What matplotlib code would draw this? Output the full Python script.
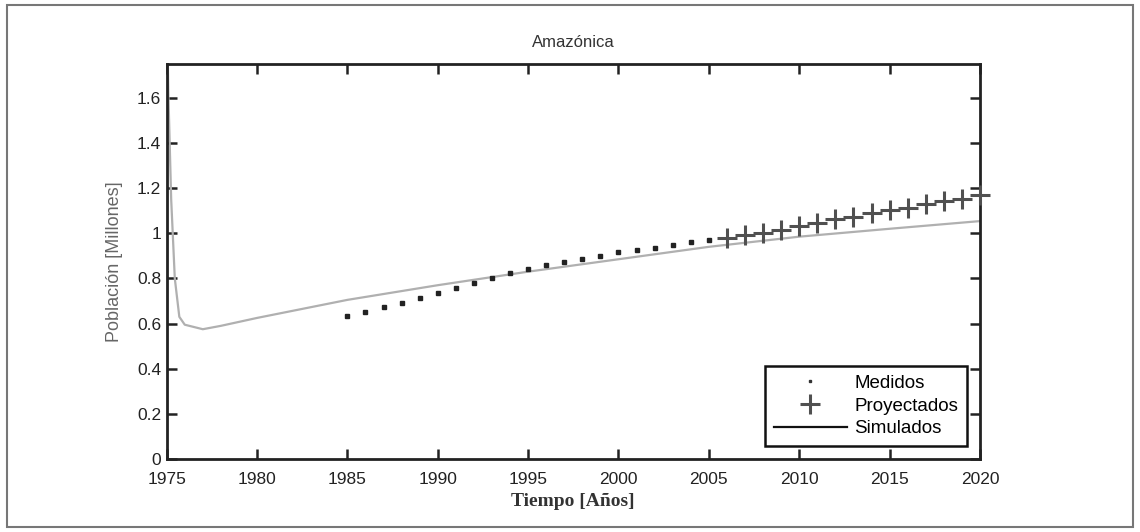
import matplotlib
matplotlib.use("Agg")
import matplotlib.pyplot as plt
from matplotlib.lines import Line2D
from matplotlib.patches import Rectangle

# measured population (millions)
years_medidos = list(range(1985, 2006))
medidos = [0.634, 0.652, 0.673, 0.690, 0.712, 0.735, 0.758, 0.780, 0.802, 0.823,
           0.842, 0.858, 0.875, 0.886, 0.901, 0.915, 0.925, 0.937, 0.948, 0.962,
           0.972]

# projected population
years_proy = list(range(2006, 2021))
proyectados = [0.981, 0.991, 1.003, 1.016, 1.031, 1.046, 1.062, 1.074, 1.090,
               1.102, 1.114, 1.128, 1.142, 1.152, 1.168]

# simulated curve
t_sim = [1975.0, 1975.1, 1975.25, 1975.45, 1975.7, 1976.0, 1977.0, 1978.0, 1980.0,
         1985.0, 1990.0, 1995.0, 2000.0, 2005.0, 2010.0, 2015.0, 2020.0]
simulados = [2.0, 1.6, 1.15, 0.80, 0.63, 0.595, 0.575, 0.590, 0.625,
             0.705, 0.770, 0.830, 0.885, 0.940, 0.985, 1.020, 1.054]

x_ticks = list(range(1975, 2021, 5))
y_ticks = [0, 0.2, 0.4, 0.6, 0.8, 1, 1.2, 1.4, 1.6]
y_tick_labels = ["0", "0.2", "0.4", "0.6", "0.8", "1", "1.2", "1.4", "1.6"]

plt.rcParams['font.family'] = ['Liberation Sans', 'DejaVu Sans']

fig = plt.figure(figsize=(11.4, 5.32), dpi=100)
ax = fig.add_axes([0.1462, 0.1372, 0.8596 - 0.1462, 0.8797 - 0.1372])

ax.plot(t_sim, simulados, color='#b0b0b0', lw=1.6, zorder=2)
ax.plot(years_medidos, medidos, linestyle='none', marker='s', markersize=2.2,
        color='#222222', zorder=3)
ax.plot(years_proy, proyectados, linestyle='none', marker='+', markersize=15,
        markeredgewidth=2.2, color='#505050', zorder=3, clip_on=False)

ax.set_xlim(1975, 2020)
ax.set_ylim(0, 1.75)
ax.set_xticks(x_ticks)
ax.set_yticks(y_ticks)
ax.set_yticklabels(y_tick_labels)
ax.tick_params(direction='in', length=7, width=1.8, top=True, right=True,
               labelsize=12.5, colors='#222222')
ax.tick_params(axis='x', pad=9)
ax.tick_params(axis='y', pad=4)
for s in ax.spines.values():
    s.set_linewidth(2)
    s.set_color('#222222')

ax.set_title("Amazónica", fontsize=12, color='#333333', pad=12)
ax.set_ylabel("Población [Millones]", fontsize=13, color='#666666', labelpad=10)
ax.set_xlabel("Tiempo [Años]", fontsize=14, fontweight='bold',
              family='Liberation Serif', color='#333333', labelpad=5)

handles = [Line2D([], [], linestyle='none', marker='s', markersize=1.8, color='#333333'),
           Line2D([], [], linestyle='none', marker='+', markersize=15,
                  markeredgewidth=2.2, color='#505050'),
           Line2D([], [], color='#111111', lw=1.6)]
leg = ax.legend(handles, ["Medidos", "Proyectados", "Simulados"], loc='lower right',
                fontsize=13.5, frameon=True, fancybox=False, edgecolor='#111111',
                handlelength=3.9, handletextpad=0.4, labelspacing=0.3,
                borderaxespad=0.7, borderpad=0.45, framealpha=1)
leg.get_frame().set_linewidth(1.8)

fig.patches.append(Rectangle((7 / 1140, 5 / 532), 1126 / 1140, 522 / 532,
                             transform=fig.transFigure, fill=False,
                             edgecolor='#777777', lw=1.5))

fig.savefig("out.png", dpi=100)
